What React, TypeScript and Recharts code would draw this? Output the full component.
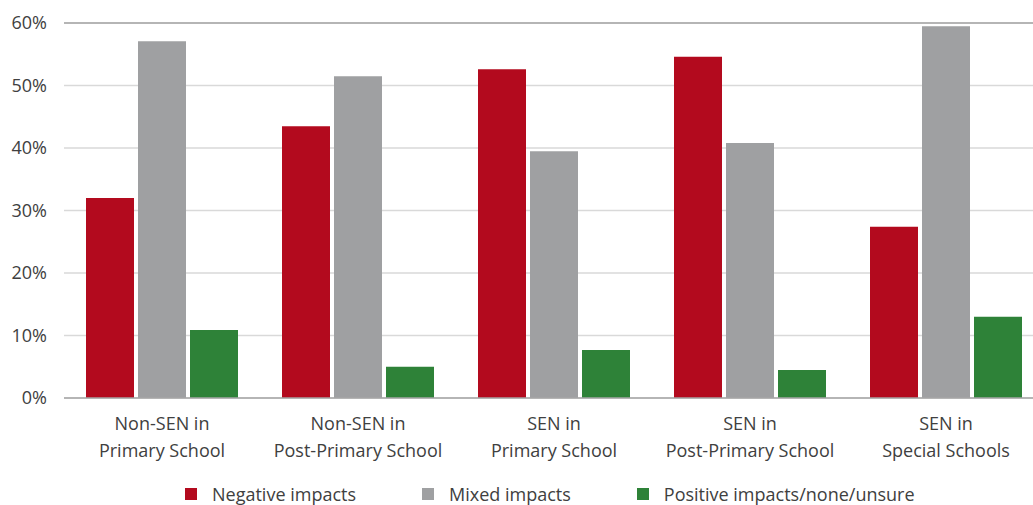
import React from 'react';
import { BarChart, Bar, XAxis, YAxis, CartesianGrid, ReferenceLine } from 'recharts';

const categories = [
  'Non-SEN in\nPrimary School',
  'Non-SEN in\nPost-Primary School',
  'SEN in\nPrimary School',
  'SEN in\nPost-Primary School',
  'SEN in\nSpecial Schools',
];
const negative = [32.0, 43.5, 52.6, 54.6, 27.4];
const mixed = [57.1, 51.5, 39.5, 40.8, 59.5];
const positive = [10.9, 5.0, 7.7, 4.5, 13.0];
const yTicks = [0, 10, 20, 30, 40, 50, 60];
const seriesNames = ['Negative impacts', 'Mixed impacts', 'Positive impacts/none/unsure'];
const colors = ['#b30a1e', '#9fa0a2', '#2e8238'];

const data = categories.map((c, i) => ({
  name: c,
  negative: negative[i],
  mixed: mixed[i],
  positive: positive[i],
}));

const FONT = '"Open Sans", sans-serif';

const XTick = (props: any) => {
  const { x, y, payload } = props;
  const lines = String(payload.value).split('\n');
  return (
    <g>
      {lines.map((l: string, i: number) => (
        <text key={i} x={x} y={y + 24 + i * 27} textAnchor="middle" fill="#404040" fontSize={18} fontFamily={FONT}>
          {l}
        </text>
      ))}
    </g>
  );
};

export default function App() {
  return (
    <div style={{ position: 'absolute', left: 0, top: 0, width: 1033, height: 505, overflow: 'hidden', background: '#fff' }}>
      <BarChart
        width={1045}
        height={505}
        data={data}
        margin={{ top: 23, right: 1, bottom: 0, left: 0 }}
        barCategoryGap={22}
        barGap={4}
      >
        <CartesianGrid vertical={false} stroke="#d9d9d9" strokeWidth={1.3} />
        <ReferenceLine y={60} stroke="#a6a6a6" strokeWidth={1.3} />
        <XAxis
          dataKey="name"
          tick={<XTick />}
          tickLine={false}
          axisLine={{ stroke: '#a6a6a6', strokeWidth: 1.5 }}
          interval={0}
          height={107}
        />
        <YAxis
          width={64}
          domain={[0, 60]}
          ticks={yTicks}
          tickFormatter={(v: number) => `${v}%`}
          axisLine={false}
          tickLine={false}
          tickSize={0}
          tickMargin={17}
          tick={{ fill: '#404040', fontSize: 18, fontFamily: FONT }}
        />
        <Bar dataKey="negative" name={seriesNames[0]} fill={colors[0]} isAnimationActive={false} />
        <Bar dataKey="mixed" name={seriesNames[1]} fill={colors[1]} isAnimationActive={false} />
        <Bar dataKey="positive" name={seriesNames[2]} fill={colors[2]} isAnimationActive={false} />
      </BarChart>
      <div style={{ position: 'absolute', top: 482, left: 185, display: 'flex', fontFamily: FONT, fontSize: 18, color: '#404040', lineHeight: '24px' }}>
        {seriesNames.map((n, i) => (
          <div key={n} style={{ display: 'flex', alignItems: 'center', marginRight: 66 }}>
            <div style={{ width: 12, height: 12, background: colors[i], marginRight: 15 }} />
            <span>{n}</span>
          </div>
        ))}
      </div>
    </div>
  );
}
